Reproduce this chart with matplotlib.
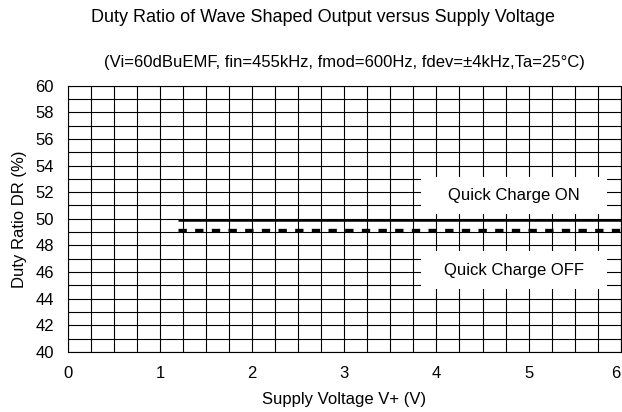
import numpy as np
import matplotlib.pyplot as plt
from matplotlib.patches import Rectangle

plt.rcParams['font.family'] = ['Liberation Sans', 'DejaVu Sans']

# data
vsup = [1.2, 2.0, 3.0, 4.0, 5.0, 6.0]
dr_on = [49.9, 49.9, 49.9, 49.9, 49.9, 49.9]
dr_off = [49.15, 49.15, 49.15, 49.15, 49.15, 49.15]
xticks = [0, 1, 2, 3, 4, 5, 6]
yticks = [40, 42, 44, 46, 48, 50, 52, 54, 56, 58, 60]

fig = plt.figure(figsize=(6.22, 4.12), dpi=100)
ax = fig.add_axes([0.109, 0.146, 0.889, 0.646])

ax.set_xlim(0, 6)
ax.set_ylim(40, 60)
ax.set_xticks(xticks)
ax.set_yticks(yticks)
ax.set_xticks(np.arange(0, 6.01, 0.25), minor=True)
ax.set_yticks(np.arange(40, 60.01, 1), minor=True)
ax.grid(which='both', color='black', linewidth=0.8)
ax.set_axisbelow(True)
ax.tick_params(which='both', length=0, labelsize=12)
ax.tick_params(axis='y', pad=10)
ax.tick_params(axis='x', pad=10)
ax.get_xticklabels()[-1].set_ha('right')
for s in ax.spines.values():
    s.set_color('black')
    s.set_linewidth(0.8)

# white label boxes hiding the grid
for cy in (51.75, 46.15):
    ax.add_patch(Rectangle((3.83, cy - 1.4), 2.02, 2.8, facecolor='white',
                           edgecolor='none', zorder=1.5))

ax.plot(vsup, dr_on, color='black', linewidth=1.8, solid_capstyle='butt', zorder=3)
ax.plot(vsup, dr_off, color='black', linewidth=2.4, linestyle=(0, (2.5, 2.5)), zorder=3)

ax.text(4.84, 51.75, 'Quick Charge ON', ha='center', va='center', fontsize=12, zorder=4)
ax.text(4.84, 46.15, 'Quick Charge OFF', ha='center', va='center', fontsize=12, zorder=4)

ax.set_xlabel('Supply Voltage V+ (V)', fontsize=12, labelpad=8)
ax.set_ylabel('Duty Ratio DR (%)', fontsize=12, labelpad=6)

fig.text(0.519, 0.958, 'Duty Ratio of Wave Shaped Output versus Supply Voltage',
         ha='center', va='center', fontsize=13)
fig.text(0.553, 0.848, '(Vi=60dBuEMF, fin=455kHz, fmod=600Hz, fdev=\u00b14kHz,Ta=25\u00b0C)',
         ha='center', va='center', fontsize=12)

fig.savefig('out.png', dpi=100)
